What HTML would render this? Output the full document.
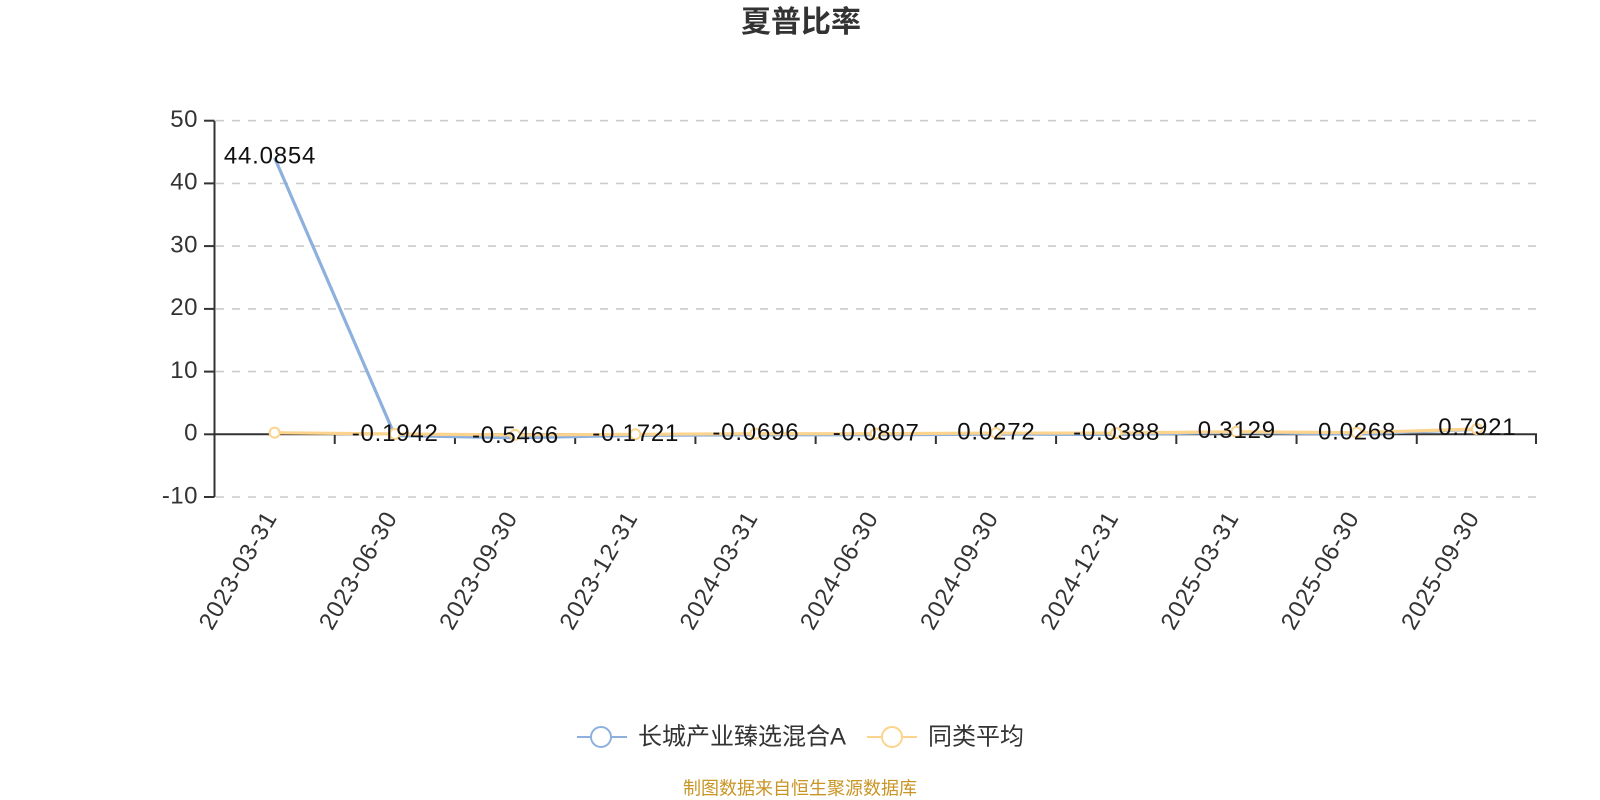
<!DOCTYPE html>
<html>
<head>
<meta charset="utf-8">
<style>
  html, body { margin: 0; padding: 0; background: #ffffff; }
  body { width: 1600px; height: 800px; overflow: hidden; }
  svg { display: block; }
  text { font-family: "Liberation Sans", "Noto Sans CJK SC", sans-serif; }
</style>
</head>
<body>
<svg width="1600" height="800" viewBox="0 0 1600 800" xmlns="http://www.w3.org/2000/svg">
  <rect x="0" y="0" width="1600" height="800" fill="#ffffff"/>

  <!-- Title -->
  <text x="801" y="22.5" text-anchor="middle" dominant-baseline="central" font-size="30" font-weight="bold" fill="#333333">夏普比率</text>

  <!-- Grid lines (dashed) -->
  <g stroke="#cccccc" stroke-width="1.6" stroke-dasharray="8,8" fill="none">
    <line x1="216" y1="120.7" x2="1537" y2="120.7"/>
    <line x1="216" y1="183.4" x2="1537" y2="183.4"/>
    <line x1="216" y1="246.1" x2="1537" y2="246.1"/>
    <line x1="216" y1="308.9" x2="1537" y2="308.9"/>
    <line x1="216" y1="371.6" x2="1537" y2="371.6"/>
    <line x1="216" y1="497.0" x2="1537" y2="497.0"/>
  </g>

  <!-- Y axis -->
  <g stroke="#333333" stroke-width="2" fill="none">
    <line x1="214.5" y1="120.7" x2="214.5" y2="497.0"/>
    <line x1="204" y1="120.7" x2="214.5" y2="120.7"/>
    <line x1="204" y1="183.4" x2="214.5" y2="183.4"/>
    <line x1="204" y1="246.1" x2="214.5" y2="246.1"/>
    <line x1="204" y1="308.9" x2="214.5" y2="308.9"/>
    <line x1="204" y1="371.6" x2="214.5" y2="371.6"/>
    <line x1="204" y1="434.3" x2="214.5" y2="434.3"/>
    <line x1="204" y1="497.0" x2="214.5" y2="497.0"/>
  </g>
  <g font-size="24" fill="#333333" text-anchor="end" letter-spacing="0.5">
    <text x="198" y="127">50</text>
    <text x="198" y="189.7">40</text>
    <text x="198" y="252.4">30</text>
    <text x="198" y="315.2">20</text>
    <text x="198" y="377.9">10</text>
    <text x="198" y="440.6">0</text>
    <text x="198" y="503.3">-10</text>
  </g>

  <!-- X axis -->
  <g stroke="#333333" stroke-width="2" fill="none">
    <line x1="214.5" y1="434.3" x2="1537" y2="434.3"/>
    <line x1="334.73" y1="434.3" x2="334.73" y2="444"/>
    <line x1="454.95" y1="434.3" x2="454.95" y2="444"/>
    <line x1="575.18" y1="434.3" x2="575.18" y2="444"/>
    <line x1="695.41" y1="434.3" x2="695.41" y2="444"/>
    <line x1="815.64" y1="434.3" x2="815.64" y2="444"/>
    <line x1="935.86" y1="434.3" x2="935.86" y2="444"/>
    <line x1="1056.09" y1="434.3" x2="1056.09" y2="444"/>
    <line x1="1176.32" y1="434.3" x2="1176.32" y2="444"/>
    <line x1="1296.54" y1="434.3" x2="1296.54" y2="444"/>
    <line x1="1416.77" y1="434.3" x2="1416.77" y2="444"/>
    <line x1="1536" y1="434.3" x2="1536" y2="444"/>
  </g>

  <!-- X labels rotated -->
  <g font-size="24" fill="#333333" text-anchor="end" letter-spacing="0.9">
    <text transform="translate(270.5,513) rotate(-60)" dy="0.35em">2023-03-31</text>
    <text transform="translate(390.7,513) rotate(-60)" dy="0.35em">2023-06-30</text>
    <text transform="translate(511.0,513) rotate(-60)" dy="0.35em">2023-09-30</text>
    <text transform="translate(631.2,513) rotate(-60)" dy="0.35em">2023-12-31</text>
    <text transform="translate(751.4,513) rotate(-60)" dy="0.35em">2024-03-31</text>
    <text transform="translate(871.7,513) rotate(-60)" dy="0.35em">2024-06-30</text>
    <text transform="translate(991.9,513) rotate(-60)" dy="0.35em">2024-09-30</text>
    <text transform="translate(1112.1,513) rotate(-60)" dy="0.35em">2024-12-31</text>
    <text transform="translate(1232.3,513) rotate(-60)" dy="0.35em">2025-03-31</text>
    <text transform="translate(1352.6,513) rotate(-60)" dy="0.35em">2025-06-30</text>
    <text transform="translate(1472.8,513) rotate(-60)" dy="0.35em">2025-09-30</text>
  </g>

  <!-- Blue series -->
  <polyline fill="none" stroke="#8db0de" stroke-width="3.2" stroke-linejoin="round"
    points="274.61,157.80 394.84,435.52 515.07,437.73 635.29,435.38 755.52,434.74 875.75,434.81 995.97,434.13 1116.20,434.54 1236.43,432.34 1356.66,434.13 1476.88,429.33"/>

  <!-- Yellow series -->
  <polyline fill="none" stroke="#fcd48e" stroke-width="3.2" stroke-linejoin="round"
    points="274.61,432.67 394.84,433.99 515.07,434.93 635.29,434.30 755.52,433.67 875.75,433.67 995.97,433.05 1116.20,433.05 1236.43,431.73 1356.66,432.67 1476.88,428.97"/>
  <g fill="#ffffff" stroke="#fcd48e" stroke-width="2">
    <circle cx="274.61" cy="432.67" r="5"/>
    <circle cx="394.84" cy="433.99" r="5"/>
    <circle cx="515.07" cy="434.93" r="5"/>
    <circle cx="635.29" cy="434.30" r="5"/>
    <circle cx="755.52" cy="433.67" r="5"/>
    <circle cx="875.75" cy="433.67" r="5"/>
    <circle cx="995.97" cy="433.05" r="5"/>
    <circle cx="1116.20" cy="433.05" r="5"/>
    <circle cx="1236.43" cy="431.73" r="5"/>
    <circle cx="1356.66" cy="432.67" r="5"/>
    <circle cx="1476.88" cy="428.97" r="5"/>
  </g>

  <!-- Data labels -->
  <g font-size="24" fill="#111111" text-anchor="middle" letter-spacing="0.8">
    <text x="270" y="163.3">44.0854</text>
    <text x="395.2" y="441">-0.1942</text>
    <text x="515.5" y="443.2">-0.5466</text>
    <text x="635.7" y="440.9">-0.1721</text>
    <text x="755.9" y="440.2">-0.0696</text>
    <text x="876.2" y="440.3">-0.0807</text>
    <text x="996.4" y="439.6">0.0272</text>
    <text x="1116.6" y="440">-0.0388</text>
    <text x="1236.8" y="437.8">0.3129</text>
    <text x="1357.1" y="439.6">0.0268</text>
    <text x="1477.3" y="434.8">0.7921</text>
  </g>

  <!-- Legend -->
  <g>
    <line x1="577" y1="737" x2="627" y2="737" stroke="#8db0de" stroke-width="2"/>
    <circle cx="601" cy="737" r="10" fill="#ffffff" stroke="#8db0de" stroke-width="2"/>
    <text x="638" y="737" dominant-baseline="central" font-size="24" fill="#333333">长城产业臻选混合A</text>

    <line x1="867" y1="737" x2="917" y2="737" stroke="#fcd48e" stroke-width="2"/>
    <circle cx="892" cy="737" r="10" fill="#ffffff" stroke="#fcd48e" stroke-width="2"/>
    <text x="928" y="737" dominant-baseline="central" font-size="24" fill="#333333">同类平均</text>
  </g>

  <!-- Footer -->
  <text x="800" y="788.5" text-anchor="middle" dominant-baseline="central" font-size="18" fill="#c99524">制图数据来自恒生聚源数据库</text>
</svg>
</body>
</html>
